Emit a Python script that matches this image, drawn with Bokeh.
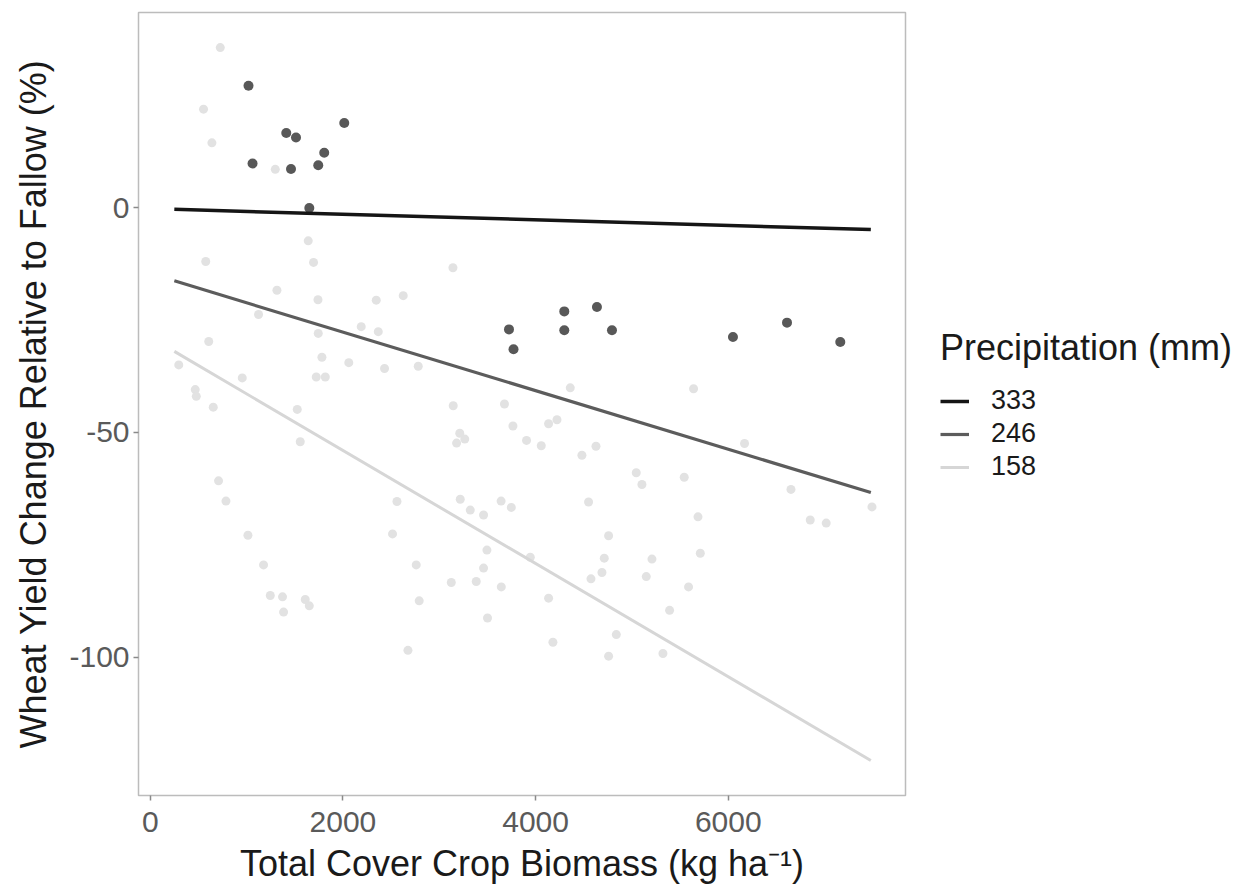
from bokeh.plotting import figure
from bokeh.models import Range1d, Legend, LegendItem, FixedTicker, PrintfTickFormatter
from bokeh.embed import file_html
from bokeh.resources import INLINE

# ---- data ----
high_x = [1020, 2014, 1412, 1513, 1806, 1062, 1461, 1744, 1651,
          3724, 3771, 4298, 4298, 4637, 4793, 6049, 6610, 7163]
high_y = [27.1, 18.8, 16.6, 15.6, 12.2, 9.8, 8.6, 9.4, -0.1,
          -27.1, -31.5, -23.1, -27.3, -22.1, -27.3, -28.8, -25.6, -29.9]

low_x = [727, 553, 640, 1298, 1640, 576, 1695, 3142, 1315, 1741, 2346, 2626,
         1124, 2190, 2367, 1744, 607, 296, 1782, 2061, 2432, 2782, 955, 1723,
         1817, 467, 478, 654, 1526, 3145, 3677, 3765, 3213, 3265, 3180, 3906,
         1557, 4059, 4135, 4222, 4360, 5640, 4481, 4627, 6169, 5045, 5104, 5543,
         6651, 7492, 709, 786, 2561, 3218, 3322, 3460, 3642, 3748, 4550, 5686,
         6851, 7017, 2515, 1014, 3495, 4758, 3945, 4713, 5208, 5710, 1176, 2761,
         3460, 3125, 3384, 3644, 4689, 4575, 5149, 5588, 1246, 1373, 1609, 1651,
         2792, 1384, 3501, 4135, 5391, 2675, 4838, 4180, 4758, 5322]
low_y = [35.6, 21.9, 14.4, 8.5, -7.4, -12.0, -12.2, -13.4, -18.4, -20.5, -20.6, -19.6,
         -23.8, -26.5, -27.6, -28.0, -29.8, -35.0, -33.3, -34.5, -35.8, -35.3, -37.9, -37.7,
         -37.7, -40.5, -42.0, -44.4, -44.9, -44.1, -43.7, -48.6, -50.2, -51.5, -52.4, -51.8,
         -52.1, -53.0, -48.1, -47.2, -40.1, -40.3, -55.1, -53.1, -52.5, -59.0, -61.6, -60.0,
         -62.7, -66.6, -60.8, -65.3, -65.4, -64.9, -67.3, -68.4, -65.3, -66.7, -65.5, -68.8,
         -69.5, -70.2, -72.6, -72.9, -76.2, -73.0, -77.8, -78.0, -78.2, -76.9, -79.5, -79.5,
         -80.2, -83.4, -83.2, -84.4, -81.2, -82.6, -82.1, -84.4, -86.3, -86.6, -87.2, -88.6,
         -87.5, -90.0, -91.3, -86.9, -89.6, -98.5, -95.0, -96.7, -99.8, -99.2]

fit_x = [250, 7480]
fit_333 = [-0.4, -4.9]
fit_246 = [-16.3, -63.4]
fit_158 = [-32.0, -123.0]

precip_labels = ["333", "246", "158"]
x_ticks = [0, 2000, 4000, 6000]
y_ticks = [-100, -50, 0]

FONT = "Liberation Sans"

p = figure(frame_width=767, frame_height=783,
           x_range=Range1d(-122, 7840), y_range=Range1d(-130.8, 43.4),
           output_backend="svg", toolbar_location=None,
           min_border_left=138, min_border_right=0,
           min_border_top=12, min_border_bottom=95)

p.background_fill_color = "white"
p.border_fill_color = "white"
p.outline_line_color = "#bcbcbc"
p.outline_line_width = 1.5
p.xgrid.visible = False
p.ygrid.visible = False

for ax in (p.xaxis[0], p.yaxis[0]):
    ax.axis_line_color = None
    ax.major_tick_line_color = "#8a8a8a"
    ax.major_tick_line_width = 1.5
    ax.major_tick_out = 5
    ax.major_tick_in = 0
    ax.minor_tick_line_color = None
    ax.major_label_text_font = FONT
    ax.major_label_text_font_size = "30px"
    ax.major_label_text_color = "#5a5a5a"
    ax.axis_label_text_font = FONT
    ax.axis_label_text_font_size = "36px"
    ax.axis_label_text_font_style = "normal"
    ax.axis_label_text_color = "#1a1a1a"
    ax.formatter = PrintfTickFormatter(format="%d")

p.xaxis[0].ticker = FixedTicker(ticks=x_ticks)
p.yaxis[0].ticker = FixedTicker(ticks=y_ticks)
p.xaxis[0].axis_label = "Total Cover Crop Biomass (kg ha\u207b\u00b9)"
p.yaxis[0].axis_label = "Wheat Yield Change Relative to Fallow (%)"
p.xaxis[0].major_label_standoff = 11
p.yaxis[0].major_label_standoff = 4
p.xaxis[0].axis_label_standoff = 8
p.yaxis[0].axis_label_standoff = 12

p.scatter(low_x, low_y, size=9, fill_color="#e2e2e2", line_color=None)
p.scatter(high_x, high_y, size=10, fill_color="#585858", line_color=None)

r333 = p.line(fit_x, fit_333, line_color="#151515", line_width=3.5)
r246 = p.line(fit_x, fit_246, line_color="#5c5c5c", line_width=3.2)
r158 = p.line(fit_x, fit_158, line_color="#d6d6d6", line_width=3)

legend = Legend(items=[LegendItem(label=precip_labels[0], renderers=[r333]),
                       LegendItem(label=precip_labels[1], renderers=[r246]),
                       LegendItem(label=precip_labels[2], renderers=[r158])],
                location=(35, 313))
legend.title = "Precipitation (mm)"
legend.title_text_font = FONT
legend.title_text_font_size = "36px"
legend.title_text_font_style = "normal"
legend.title_text_color = "#1a1a1a"
legend.title_standoff = 16
legend.label_text_font = FONT
legend.label_text_font_size = "27px"
legend.label_text_color = "#1a1a1a"
legend.glyph_width = 29
legend.glyph_height = 22
legend.label_height = 22
legend.spacing = 2
legend.label_standoff = 22
legend.padding = 0
legend.margin = 0
legend.border_line_color = None
legend.background_fill_alpha = 0
p.add_layout(legend, "right")

open("out.html", "w").write(file_html(p, INLINE))
